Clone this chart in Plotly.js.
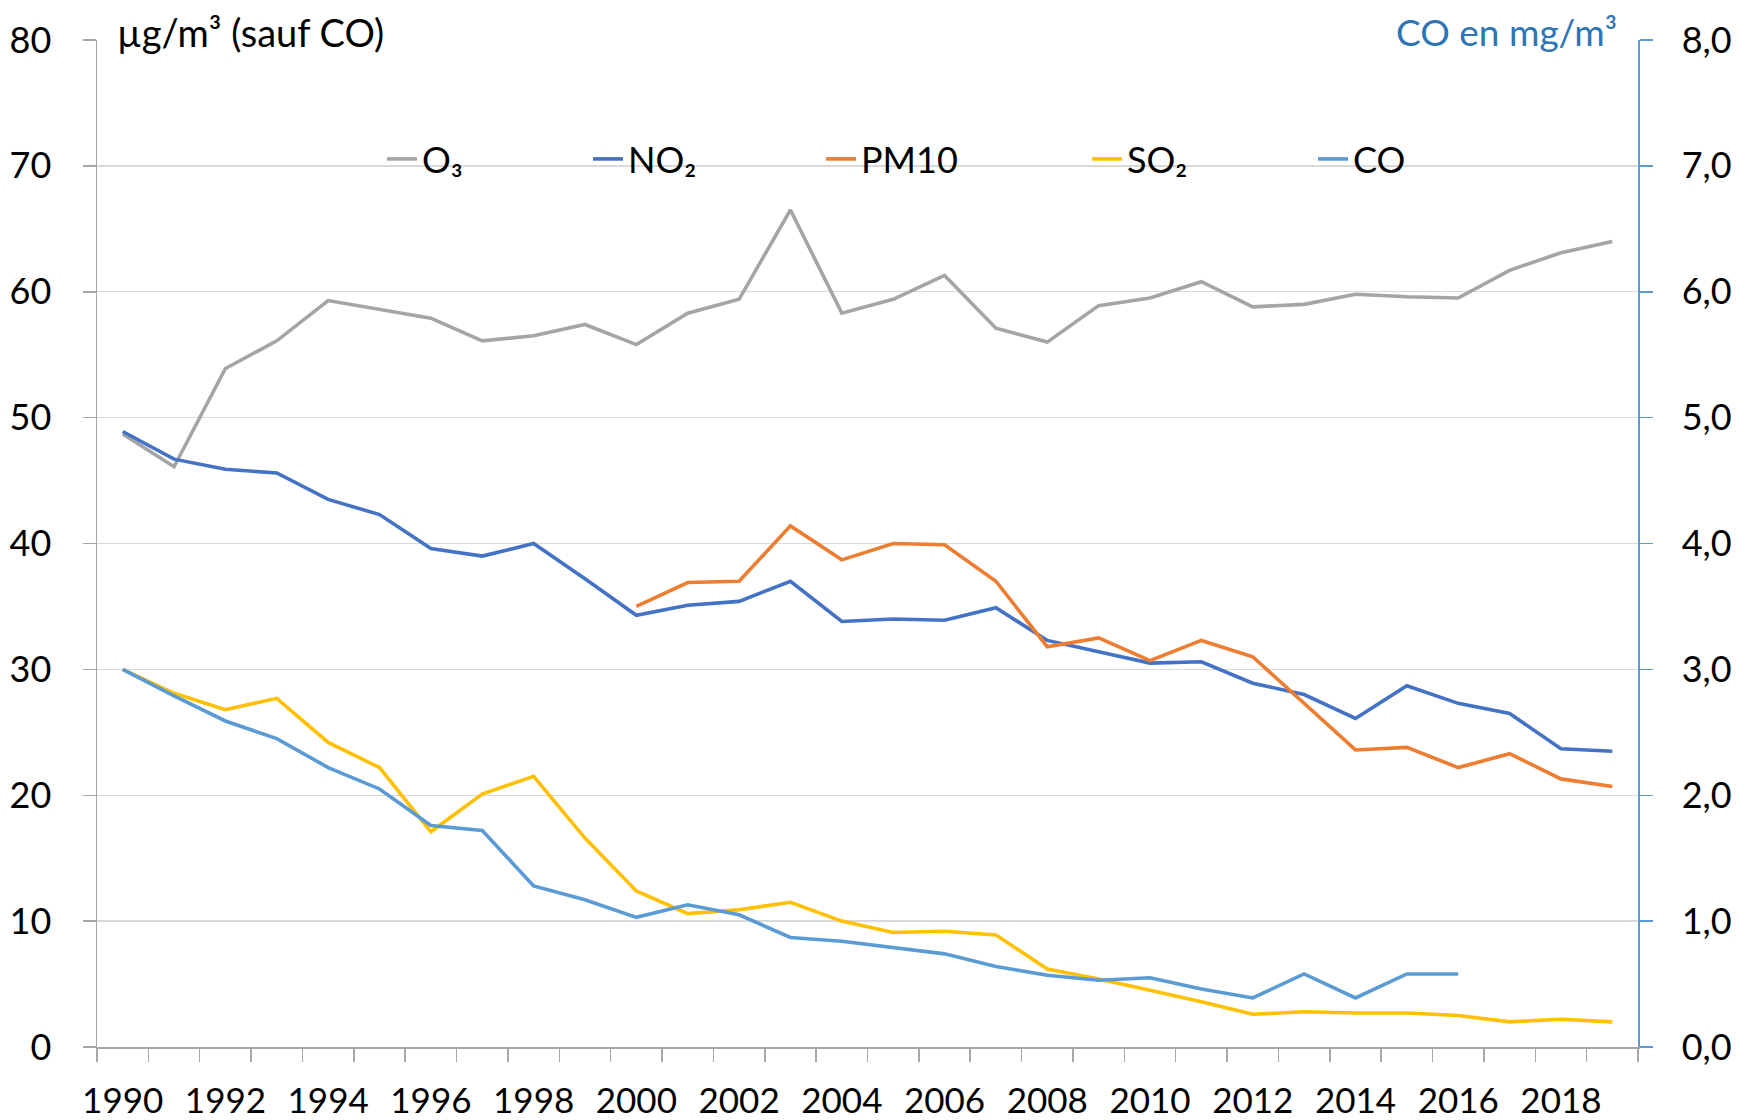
<!DOCTYPE html>
<html>
<head>
<meta charset="utf-8">
<script src="https://cdn.plot.ly/plotly-3.0.1.min.js"></script>
<style>
html, body { margin: 0; padding: 0; background: #ffffff; }
#chart { width: 1740px; height: 1120px; }
</style>
</head>
<body>
<div id="chart"></div>
<script>
// ---- Data ----
const years = [1990,1991,1992,1993,1994,1995,1996,1997,1998,1999,
               2000,2001,2002,2003,2004,2005,2006,2007,2008,2009,
               2010,2011,2012,2013,2014,2015,2016,2017,2018,2019];

// µg/m³
const o3   = [48.7,46.1,53.9,56.1,59.3,58.6,57.9,56.1,56.5,57.4,
              55.8,58.3,59.4,66.5,58.3,59.4,61.3,57.1,56.0,58.9,
              59.5,60.8,58.8,59.0,59.8,59.6,59.5,61.7,63.1,64.0];
const no2  = [48.9,46.7,45.9,45.6,43.5,42.3,39.6,39.0,40.0,37.2,
              34.3,35.1,35.4,37.0,33.8,34.0,33.9,34.9,32.3,31.4,
              30.5,30.6,28.9,28.0,26.1,28.7,27.3,26.5,23.7,23.5];
const pm10 = [null,null,null,null,null,null,null,null,null,null,
              35.0,36.9,37.0,41.4,38.7,40.0,39.9,37.0,31.8,32.5,
              30.7,32.3,31.0,27.3,23.6,23.8,22.2,23.3,21.3,20.7];
const so2  = [30.0,28.1,26.8,27.7,24.2,22.2,17.1,20.1,21.5,16.6,
              12.4,10.6,10.9,11.5,10.0,9.1,9.2,8.9,6.2,5.4,
              4.5,3.6,2.6,2.8,2.7,2.7,2.5,2.0,2.2,2.0];
// mg/m³ (secondary axis)
const co   = [3.00,2.79,2.59,2.45,2.22,2.05,1.76,1.72,1.28,1.17,
              1.03,1.13,1.05,0.87,0.84,0.79,0.74,0.64,0.57,0.53,
              0.55,0.46,0.39,0.58,0.39,0.58,0.58,null,null,null];

const seriesNames = ["O₃", "NO₂", "PM10", "SO₂", "CO"];
const leftTitle = "µg/m³ (sauf CO)";
const rightTitle = "CO en mg/m³";

// ---- Layout geometry ----
const W = 1740, H = 1120;
const plotL = 97, plotR = 1638, plotT = 40, plotB = 1047;
const plotW = plotR - plotL, plotH = plotB - plotT;
const px2x = p => (p - plotL) / plotW;
const px2y = p => 1 - (p - plotT) / plotH;

const FONT = "Lato, 'Open Sans', sans-serif";
const colors = ["#a5a5a5", "#4472c4", "#ed7d31", "#ffc000", "#5b9bd5"];
const lw = 3.6;

// legend text start positions (px)
const legTextX = [422, 628, 861, 1127, 1353];
const legY = px2y(159);

const traces = [o3, no2, pm10, so2, co].map((vals, i) => ({
  type: "scatter",
  mode: "lines",
  name: seriesNames[i],
  x: years,
  y: vals,
  yaxis: i === 4 ? "y2" : "y",
  line: { color: colors[i], width: lw },
  connectgaps: false,
  hoverinfo: "skip",
  legend: i === 0 ? "legend" : "legend" + (i + 1)
}));

function legendSpec(i) {
  return {
    x: px2x(legTextX[i] - 40),
    xanchor: "left",
    y: legY,
    yanchor: "middle",
    orientation: "h",
    bgcolor: "rgba(0,0,0,0)",
    borderwidth: 0,
    font: { family: FONT, size: 36, color: "#000000" },
    itemclick: false,
    itemdoubleclick: false
  };
}

const layout = {
  width: W,
  height: H,
  margin: { l: plotL, r: W - plotR, t: plotT, b: H - plotB, pad: 0 },
  paper_bgcolor: "#ffffff",
  plot_bgcolor: "rgba(0,0,0,0)",
  separators: ", ",
  font: { family: FONT, size: 36, color: "#000000" },
  showlegend: true,
  legend: legendSpec(0),
  legend2: legendSpec(1),
  legend3: legendSpec(2),
  legend4: legendSpec(3),
  legend5: legendSpec(4),
  xaxis: {
    type: "linear",
    range: [years[0] - 0.5, years[years.length - 1] + 0.5],
    tickmode: "linear",
    tick0: years[0],
    dtick: 2,
    tickformat: "d",
    ticks: "outside",
    ticklen: 13,
    tickcolor: "rgba(0,0,0,0)",
    ticklabelstandoff: 9,
    tickfont: { family: FONT, size: 35, color: "#000000" },
    showgrid: false,
    zeroline: false,
    showline: true,
    linecolor: "#a6a6a6",
    linewidth: 1.5,
    minor: {
      tick0: years[0] - 0.5,
      dtick: 1,
      ticks: "outside",
      ticklen: 13,
      tickcolor: "#a6a6a6",
      tickwidth: 1.5,
      showgrid: false
    },
    fixedrange: true
  },
  yaxis: {
    range: [0, 80],
    tickmode: "linear",
    tick0: 0,
    dtick: 10,
    ticks: "outside",
    ticklen: 13,
    tickcolor: "#a6a6a6",
    tickwidth: 1.5,
    ticklabelstandoff: 24,
    tickfont: { family: FONT, size: 36, color: "#000000" },
    showgrid: true,
    gridcolor: "#d9d9d9",
    gridwidth: 1.3,
    zeroline: false,
    showline: true,
    linecolor: "#a6a6a6",
    linewidth: 1.5,
    fixedrange: true
  },
  yaxis2: {
    overlaying: "y",
    side: "right",
    range: [0, 8],
    tickmode: "linear",
    tick0: 0,
    dtick: 1,
    tickformat: ".1f",
    ticks: "outside",
    ticklen: 13,
    tickcolor: "#5b9bd5",
    tickwidth: 1.5,
    ticklabelstandoff: 22,
    tickfont: { family: FONT, size: 36, color: "#000000" },
    showgrid: false,
    zeroline: false,
    showline: true,
    linecolor: "#5b9bd5",
    linewidth: 1.5,
    fixedrange: true
  },
  annotations: [
    {
      text: leftTitle,
      xref: "paper", yref: "paper",
      x: px2x(115), y: px2y(32),
      xanchor: "left", yanchor: "middle",
      showarrow: false,
      font: { family: FONT, size: 38, color: "#000000" }
    },
    {
      text: rightTitle,
      xref: "paper", yref: "paper",
      x: px2x(1619), y: px2y(32),
      xanchor: "right", yanchor: "middle",
      showarrow: false,
      font: { family: FONT, size: 37, color: "#2e75b6" }
    }
  ]
};

Plotly.newPlot("chart", traces, layout, { displayModeBar: false, staticPlot: true });
</script>
</body>
</html>
